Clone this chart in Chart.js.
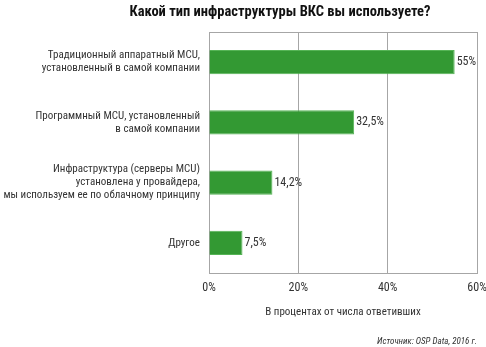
<!DOCTYPE html>
<html>
<head>
<meta charset="utf-8">
<script src="https://cdn.jsdelivr.net/npm/chart.js@4/dist/chart.umd.min.js"></script>
<style>
  html, body { margin: 0; padding: 0; background: #fff; }
  #wrap { width: 486px; height: 347px; }
</style>
</head>
<body>
<div id="wrap"><canvas id="barChart" width="486" height="347"></canvas></div>
<script>
var categories = [
    ["Традиционный аппаратный MCU,", "установленный в самой компании"],
    ["Программный MCU, установленный", "в самой компании"],
    ["Инфраструктура (серверы MCU)", "установлена у провайдера,", "мы используем ее по облачному принципу"],
    ["Другое"]
];
var shares = [55, 32.5, 14.2, 7.5];
var tickValues = [0, 20, 40, 60];

var FONT = "'Roboto Condensed', 'Liberation Sans Narrow', sans-serif";

function pct(v){
    return String(v).replace('.', ',') + '%';
}

// top edge of the frame, value labels, heading and source line
var extras = {
    id: 'extras',
    beforeDatasetsDraw: function(chart){
        var ctx = chart.ctx, a = chart.chartArea;
        ctx.save();
        ctx.strokeStyle = '#a6a6a6';
        ctx.lineWidth = 1;
        ctx.beginPath();
        ctx.moveTo(a.left, a.top + 0.5);
        ctx.lineTo(a.right, a.top + 0.5);
        ctx.stroke();
        ctx.restore();
    },
    afterDraw: function(chart){
        var ctx = chart.ctx;
        ctx.save();
        var meta = chart.getDatasetMeta(0);
        ctx.fillStyle = '#333';
        ctx.font = '12px ' + FONT;
        ctx.textBaseline = 'middle';
        ctx.textAlign = 'left';
        meta.data.forEach(function(bar, i){
            ctx.fillText(pct(shares[i]), bar.x + 2, bar.y);
        });

        ctx.fillStyle = '#111';
        ctx.font = 'bold 14.5px ' + FONT;
        ctx.textAlign = 'center';
        ctx.fillText('Какой тип инфраструктуры ВКС вы используете?', 280, 12);

        ctx.fillStyle = '#333';
        ctx.font = 'italic 9px ' + FONT;
        ctx.textAlign = 'right';
        ctx.fillText('Источник: OSP Data, 2016 г.', 477, 342);
        ctx.restore();
    }
};

window.onload = function(){
    var ctx = document.getElementById('barChart').getContext('2d');
    var chart = new Chart(ctx, {
        type: 'bar',
        data: {
            labels: categories,
            datasets: [{
                data: shares,
                backgroundColor: '#339933',
                borderColor: '#55b455',
                borderWidth: 1,
                barPercentage: 0.8,
                categoryPercentage: 0.5
            }]
        },
        options: {
            indexAxis: 'y',
            responsive: false,
            animation: false,
            layout: { padding: { top: 32, right: 0, bottom: 0, left: 0 } },
            plugins: {
                legend: { display: false },
                tooltip: { enabled: false }
            },
            scales: {
                x: {
                    min: 0,
                    max: 60,
                    afterBuildTicks: function(scale){
                        scale.ticks = tickValues.map(function(v){ return { value: v }; });
                    },
                    afterFit: function(scale){
                        scale.height = 74;
                        scale.paddingLeft = 0;
                        scale.paddingRight = 9;
                    },
                    grid: { color: '#a6a6a6', drawTicks: false },
                    border: { color: '#a6a6a6' },
                    ticks: {
                        padding: 8,
                        color: '#333',
                        font: { family: FONT, size: 12 },
                        callback: function(v){ return v + '%'; }
                    },
                    title: {
                        display: true,
                        text: 'В процентах от числа ответивших',
                        color: '#333',
                        font: { family: FONT, size: 11 },
                        padding: { top: 0, bottom: 28 }
                    }
                },
                y: {
                    afterFit: function(scale){ scale.width = 209; },
                    grid: { display: false, drawTicks: false },
                    border: { color: '#a6a6a6' },
                    ticks: {
                        padding: 9,
                        color: '#333',
                        font: { family: FONT, size: 11, lineHeight: 1.18 }
                    }
                }
            }
        },
        plugins: [extras]
    });
};
</script>
</body>
</html>
